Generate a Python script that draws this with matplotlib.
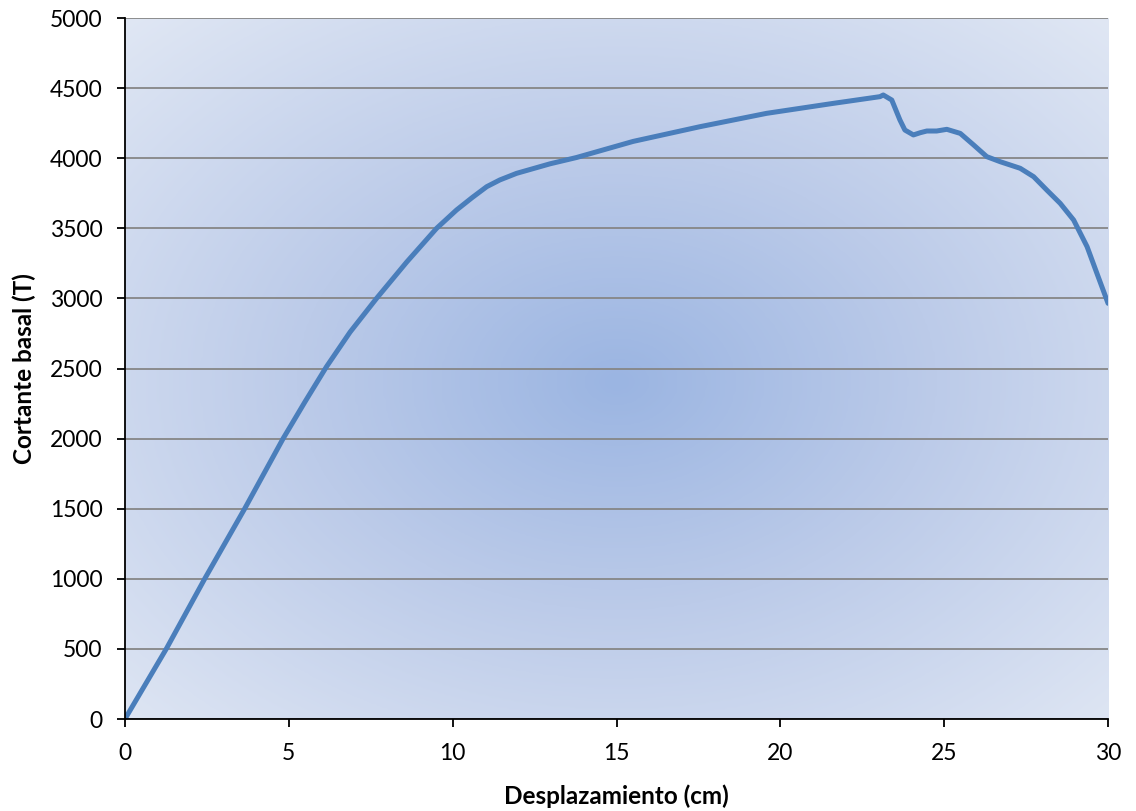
import numpy as np
import matplotlib
matplotlib.use("Agg")
import matplotlib.pyplot as plt
from matplotlib.colors import LinearSegmentedColormap

plt.rcParams['font.family'] = ['Lato', 'DejaVu Sans']

# Pushover curve: displacement (cm) vs base shear (T)
desplazamiento = [0.0, 1.27, 2.44, 3.66, 4.83, 5.5, 6.15, 6.87, 7.68, 8.6, 9.51,
                  10.12, 10.6, 11.04, 11.44, 11.95, 12.97, 13.78, 15.51, 17.55,
                  19.58, 21.61, 23.04, 23.14, 23.4, 23.65, 23.8, 24.06, 24.27,
                  24.47, 24.77, 25.08, 25.49, 25.9, 26.3, 26.71, 27.32, 27.73,
                  28.13, 28.54, 28.95, 29.36, 29.66, 30.0]
cortante = [0, 504, 1003, 1503, 2002, 2265, 2513, 2760, 3001, 3260, 3500,
            3631, 3720, 3797, 3845, 3892, 3960, 4005, 4120, 4225,
            4320, 4391, 4439, 4451, 4415, 4272, 4201, 4166, 4182,
            4194, 4194, 4206, 4177, 4094, 4011, 3975, 3928, 3868,
            3773, 3678, 3559, 3369, 3179, 2965]

x_ticks = [0, 5, 10, 15, 20, 25, 30]
y_ticks = [0, 500, 1000, 1500, 2000, 2500, 3000, 3500, 4000, 4500, 5000]

fig = plt.figure(figsize=(11.36, 8.11), dpi=100)
ax = fig.add_axes([0.110, 0.1134, 0.8654, 0.8644])

# radial gradient fill for the plotting area
nx, ny = 400, 300
gx = np.linspace(0, 1, nx)
gy = np.linspace(0, 1, ny)
GX, GY = np.meshgrid(gx, gy)
cx, cy = 0.5, 0.48
r = np.sqrt(((GX - cx) / 0.72) ** 2 + ((GY - cy) / 0.72) ** 2)
r = np.clip(r / r.max(), 0, 1)
cmap = LinearSegmentedColormap.from_list(
    "bg", [(0.0, "#9bb5e2"), (0.45, "#bccbe9"), (1.0, "#e0e7f4")])
ax.imshow(r, extent=(0, 1, 0, 1), transform=ax.transAxes, cmap=cmap,
          origin="lower", aspect="auto", zorder=0, interpolation="bicubic")

ax.plot(desplazamiento, cortante, color="#4a7ebb", lw=3.6, zorder=3,
        solid_capstyle="round", solid_joinstyle="round")

ax.set_xlim(0, 30)
ax.set_ylim(0, 5000)
ax.set_xticks(x_ticks)
ax.set_yticks(y_ticks)
ax.yaxis.grid(True, color="#868686", lw=1.3, zorder=1)
ax.set_axisbelow(True)
for s in ("top", "right"):
    ax.spines[s].set_visible(False)
for s in ("left", "bottom"):
    ax.spines[s].set_color("black")
    ax.spines[s].set_linewidth(1.3)
    ax.spines[s].set_zorder(4)
ax.tick_params(direction="out", length=6, width=1.3, labelsize=16.5,
               colors="black")
ax.tick_params(axis="x", pad=11)
ax.tick_params(axis="y", pad=10)

ax.set_xlabel("Desplazamiento (cm)", fontsize=17.5, fontweight="bold", va="center")
ax.set_ylabel("Cortante basal (T)", fontsize=17.5, fontweight="bold", va="center")
ax.xaxis.set_label_coords(0.5, -0.1098)
ax.yaxis.set_label_coords(-0.1027, 0.5)

fig.savefig("out.png", dpi=100)
